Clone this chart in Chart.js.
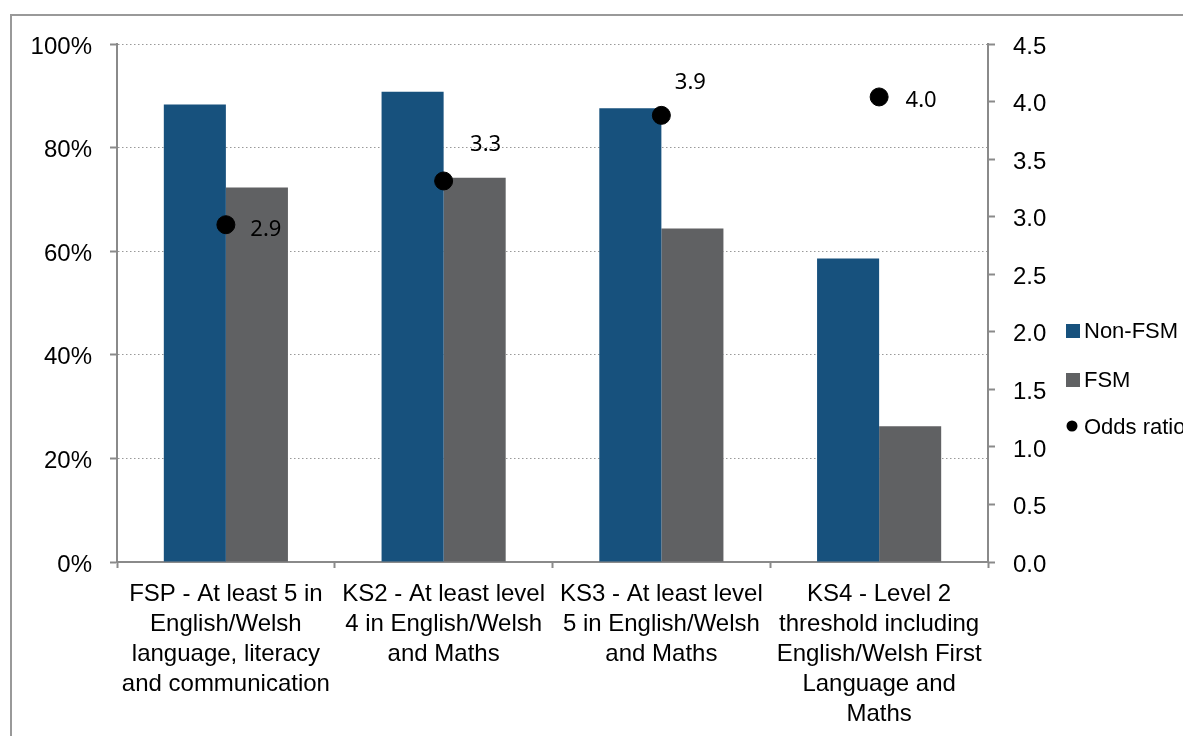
<!DOCTYPE html>
<html>
<head>
<meta charset="utf-8">
<script src="https://cdn.jsdelivr.net/npm/chart.js@4/dist/chart.umd.min.js"></script>
<style>
html,body{margin:0;padding:0;background:#fff;}
#wrap{position:relative;width:1183px;height:736px;overflow:hidden;}
</style>
</head>
<body>
<div id="wrap"><canvas id="c"></canvas></div>
<script>
// ---- data ----
const categories = [
  ["FSP - At least 5 in", "English/Welsh", "language, literacy", "and communication"],
  ["KS2 - At least level", "4 in English/Welsh", "and Maths"],
  ["KS3 - At least level", "5 in English/Welsh", "and Maths"],
  ["KS4 - Level 2", "threshold including", "English/Welsh First", "Language and", "Maths"]
];
const nonFSM = [88.3, 90.8, 87.6, 58.6];
const fsm = [72.3, 74.2, 64.4, 26.2];
const oddsRatio = [2.93, 3.31, 3.88, 4.04];
const leftTicks = [0, 20, 40, 60, 80, 100];
const rightTicks = [0, 0.5, 1.0, 1.5, 2.0, 2.5, 3.0, 3.5, 4.0, 4.5];

// label offsets (style) for the odds ratio data labels
const labelOffsets = [[40, 5], [42, -36], [29, -33], [42, 4]];

Chart.defaults.font.family = "'Liberation Sans', Arial, sans-serif";
Chart.defaults.font.size = 24;
Chart.defaults.color = '#000';

const BLUE = '#17517D', GREY = '#606163', AXIS = '#8a8a8a';

const framePlugin = {
  id: 'frame',
  beforeDraw(chart) {
    const ctx = chart.ctx;
    ctx.save();
    ctx.strokeStyle = '#999';
    ctx.lineWidth = 2;
    ctx.strokeRect(11, 15, 1400, 1000);
    ctx.restore();
  }
};

const labelPlugin = {
  id: 'oddsLabels',
  afterDatasetsDraw(chart) {
    const ctx = chart.ctx;
    const idx = chart.data.datasets.findIndex(d => d.type === 'line');
    const meta = chart.getDatasetMeta(idx);
    ctx.save();
    ctx.font = "22px 'Noto Sans', sans-serif";
    ctx.fillStyle = '#000';
    ctx.textAlign = 'center';
    ctx.textBaseline = 'middle';
    meta.data.forEach((pt, i) => {
      const v = chart.data.datasets[idx].data[i];
      const o = labelOffsets[i];
      ctx.fillText(v.toFixed(1), pt.x + o[0], pt.y + o[1]);
    });
    ctx.restore();
  }
};

const legendPlugin = {
  id: 'customLegend',
  afterDraw(chart) {
    const ctx = chart.ctx;
    const x0 = 1066, ys = [331, 380, 427];
    ctx.save();
    ctx.font = "22px 'Liberation Sans', Arial, sans-serif";
    ctx.textBaseline = 'middle';
    ctx.textAlign = 'left';
    chart.data.datasets.forEach((ds, i) => {
      const y = ys[i];
      ctx.fillStyle = ds.type === 'line' ? ds.pointBackgroundColor : ds.backgroundColor;
      if (ds.type === 'line') {
        ctx.beginPath();
        ctx.arc(x0 + 6, y - 1, 5.5, 0, Math.PI * 2);
        ctx.fill();
      } else {
        ctx.fillRect(x0, y - 7, 14, 14);
      }
      ctx.fillStyle = '#000';
      ctx.fillText(ds.label, x0 + 18, y + 1);
    });
    ctx.restore();
  }
};

new Chart(document.getElementById('c'), {
  data: {
    labels: categories,
    datasets: [
      { type: 'bar', label: 'Non-FSM', data: nonFSM, backgroundColor: BLUE, yAxisID: 'y', order: 2,
        barPercentage: 1.0, categoryPercentage: 0.57 },
      { type: 'bar', label: 'FSM', data: fsm, backgroundColor: GREY, yAxisID: 'y', order: 2,
        barPercentage: 1.0, categoryPercentage: 0.57 },
      { type: 'line', label: 'Odds ratio', data: oddsRatio, yAxisID: 'y1', showLine: false, order: 0,
        pointRadius: 9, pointHoverRadius: 9, pointBackgroundColor: '#000', pointBorderColor: '#000', borderColor: '#000' }
    ]
  },
  options: {
    responsive: true,
    maintainAspectRatio: false,
    animation: false,
    events: [],
    layout: { padding: { top: 44, left: 0, right: 0, bottom: 0 } },
    plugins: { legend: { display: false }, tooltip: { enabled: false } },
    scales: {
      x: {
        offset: true,
        grid: { display: true, drawOnChartArea: false, offset: true, tickLength: 6, tickColor: AXIS, tickWidth: 2 },
        border: { display: true, color: AXIS, width: 2 },
        ticks: { maxRotation: 0, autoSkip: false, padding: 11, font: { size: 24, lineHeight: 1.25 } },
        afterFit(s) { s.height = 736 - 44 - 518; }
      },
      y: {
        position: 'left',
        min: 0, max: 100,
        afterBuildTicks(s) { s.ticks = leftTicks.map(v => ({ value: v })); },
        ticks: { callback: v => v + '%', padding: 18, labelOffset: 3 },
        grid: { color: '#999', lineWidth: 1, tickColor: AXIS, tickWidth: 2, tickLength: 7, tickBorderDash: [] },
        border: { display: true, color: AXIS, width: 2, dash: [1.5, 2.5] },
        afterFit(s) { s.width = 117; }
      },
      y1: {
        position: 'right',
        min: 0, max: 4.5,
        afterBuildTicks(s) { s.ticks = rightTicks.map(v => ({ value: v })); },
        ticks: { callback: v => Number(v).toFixed(1), padding: 18, labelOffset: 3 },
        grid: { drawOnChartArea: false, tickColor: AXIS, tickWidth: 2, tickLength: 7 },
        border: { display: true, color: AXIS, width: 2 },
        afterFit(s) { s.width = 1183 - 988; }
      }
    }
  },
  plugins: [framePlugin, labelPlugin, legendPlugin]
});
</script>
</body>
</html>
